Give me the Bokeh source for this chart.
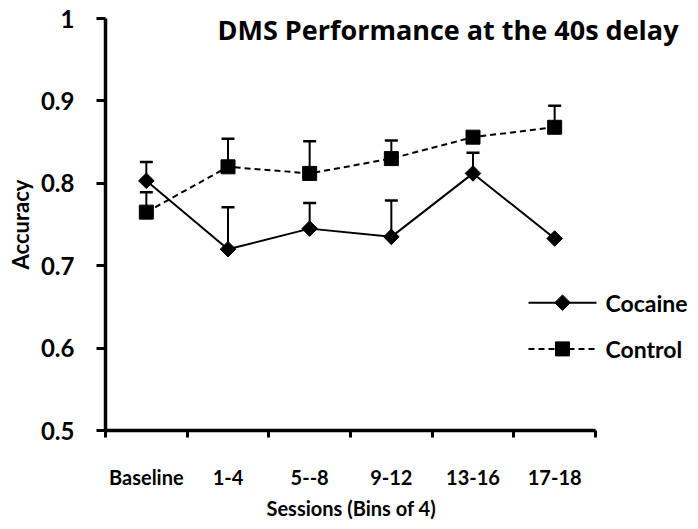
from bokeh.plotting import figure
from bokeh.models import (Range1d, FixedTicker, Whisker, TeeHead, ColumnDataSource, Label, Title)
from bokeh.core.properties import value
from bokeh.embed import file_html
from bokeh.resources import INLINE

# ---- data ----
categories = ["Baseline", "1-4", "5--8", "9-12", "13-16", "17-18"]
cocaine = [0.803, 0.720, 0.745, 0.735, 0.812, 0.733]
cocaine_sem = [0.023, 0.051, 0.031, 0.044, 0.025, 0.0]
control = [0.765, 0.820, 0.812, 0.830, 0.856, 0.868]
control_sem = [0.024, 0.034, 0.039, 0.022, 0.0, 0.026]
y_ticks = [0.5, 0.6, 0.7, 0.8, 0.9, 1.0]
y_tick_labels = ["0.5", "0.6", "0.7", "0.8", "0.9", "1"]
series_names = ["Cocaine", "Control"]
title_text = "DMS Performance  at the 40s delay"
x_label = "Sessions (Bins of 4)"
y_label = "Accuracy"

FONT = "Lato"

# ---- layout (pixels) ----
W, H = 690, 521
FL, FT, FB = 105, 18, 437          # frame left / top / bottom
AXIS_RIGHT = 595                   # where the category axis ends
n = len(categories)
px_per_cat = (AXIS_RIGHT - FL) / n
x_end = (W - FL) / px_per_cat
px_per_y = (FB - FT) / (y_ticks[-1] - y_ticks[0])

def px2x(px):
    return (px - FL) / px_per_cat

def px2y(py):
    return y_ticks[-1] - (py - FT) / px_per_y

x = [i + 0.5 for i in range(n)]

p = figure(width=W, height=H, output_backend="svg", toolbar_location=None,
           x_range=Range1d(0, x_end), y_range=Range1d(y_ticks[0], y_ticks[-1]),
           min_border_left=FL, min_border_right=0, min_border_top=FT,
           min_border_bottom=H - FB)
p.outline_line_color = None
p.xgrid.visible = False
p.ygrid.visible = False
p.background_fill_color = "white"
p.border_fill_color = "white"

# axes
p.xaxis.bounds = (0, n)
p.xaxis.ticker = FixedTicker(ticks=x, minor_ticks=list(range(n + 1)))
p.xaxis.major_label_overrides = {xi: c for xi, c in zip(x, categories)}
p.xaxis.major_tick_out = 0
p.xaxis.major_tick_in = 0
p.xaxis.minor_tick_out = 7
p.xaxis.minor_tick_in = 0
p.xaxis.minor_tick_line_width = 3
p.xaxis.minor_tick_line_color = "black"
p.xaxis.major_label_standoff = 27
p.xaxis.major_label_text_font_size = "20px"

p.yaxis.ticker = FixedTicker(ticks=y_ticks, minor_ticks=[])
p.yaxis.major_label_overrides = {t: l for t, l in zip(y_ticks, y_tick_labels)}
p.yaxis.major_tick_out = 9
p.yaxis.major_tick_in = 0
p.yaxis.major_tick_line_width = 3
p.yaxis.major_label_standoff = 22
p.yaxis.major_label_text_font_size = "24px"
p.yaxis.axis_label = y_label
p.yaxis.axis_label_standoff = 4

for ax in (p.xaxis[0], p.yaxis[0]):
    ax.axis_line_width = 3.5
    ax.axis_line_color = "black"
    ax.major_tick_line_color = "black"
    ax.major_label_text_font = FONT
    ax.major_label_text_font_style = "bold"
    ax.major_label_text_color = "black"
    ax.axis_label_text_font = FONT
    ax.axis_label_text_font_style = "bold"
    ax.axis_label_text_font_size = "22px"
    ax.axis_label_text_color = "black"

# x axis title, centred under the category axis (not the whole frame)
p.add_layout(Title(text=x_label, align="left", offset=(AXIS_RIGHT - FL) / 2 - 84,
                   text_font=FONT, text_font_style="bold", text_font_size="20px",
                   text_color="black", standoff=4), "below")

# error bars (upper only)
def upper_bars(vals, sems):
    xs = [xi for xi, s in zip(x, sems) if s > 0]
    lo = [v for v, s in zip(vals, sems) if s > 0]
    hi = [v + s for v, s in zip(vals, sems) if s > 0]
    src = ColumnDataSource(dict(x=xs, lo=lo, hi=hi))
    w = Whisker(base="x", lower="lo", upper="hi", source=src,
                line_color="black", line_width=2,
                lower_head=None,
                upper_head=TeeHead(size=13, line_width=2.5, line_color="black"))
    p.add_layout(w)

upper_bars(control, control_sem)
upper_bars(cocaine, cocaine_sem)

# series
DIAMOND = dict(marker="square", angle=0.785398, size=11)
SQUARE = dict(marker="square", size=14)
p.line(x, cocaine, line_color="black", line_width=2)
p.scatter(x, cocaine, fill_color="black", line_color="black", **DIAMOND)
p.line(x, control, line_color="black", line_width=2, line_dash="6 4")
p.scatter(x, control, fill_color="black", line_color="black", **SQUARE)

# legend (drawn by hand so the diamond keeps its shape)
leg_rows = [307, 354]
kx0, kx1, kxm, tx = px2x(528), px2x(596), px2x(562), px2x(605)
for name, row, dash, mk in zip(series_names, leg_rows, ["solid", "6 4"], [DIAMOND, SQUARE]):
    yy = px2y(row)
    p.line([kx0, kx1], [yy, yy], line_color="black", line_width=2, line_dash=dash)
    p.scatter([kxm], [yy], fill_color="black", line_color="black", **mk)
    p.text([tx], [yy], text=[name], text_font=value(FONT), text_font_style="bold",
           text_font_size="23px", text_baseline="middle", text_align="left",
           text_color="black")

title = Label(x=px2x(451), y=px2y(29), text=title_text,
              text_align="center", text_baseline="middle",
              text_font="Open Sans", text_font_style="bold", text_font_size="27px",
              text_color="black")
p.add_layout(title)

open("out.html", "w").write(file_html(p, INLINE))
